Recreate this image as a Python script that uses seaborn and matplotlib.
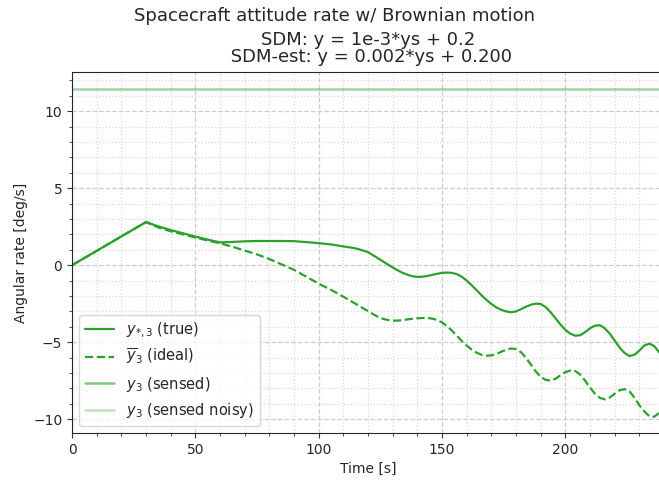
import matplotlib
matplotlib.use("Agg")
import matplotlib.pyplot as plt
from matplotlib.ticker import AutoMinorLocator
import seaborn as sns
import pandas as pd

# Time samples [s] and angular rates [deg/s]
t_true = [0, 10, 20, 30, 35, 40, 45, 50, 55, 60, 65, 70, 75, 80, 85, 90, 95,
          100, 105, 110, 114, 116, 118, 120, 122, 124, 126, 128, 130, 132, 134,
          136, 138, 140, 142, 144, 146, 148, 150, 152, 154, 156, 158, 160, 162,
          164, 166, 168, 170, 172, 174, 176, 178, 180, 182, 184, 186, 188, 190,
          192, 194, 196, 198, 200, 202, 204, 206, 208, 210, 212, 214, 216, 218,
          220, 222, 224, 226, 228, 230, 232, 234, 236, 238]
y_true = [0.0, 0.93, 1.87, 2.8, 2.52, 2.28, 2.07, 1.86, 1.66, 1.48, 1.51, 1.55,
          1.57, 1.57, 1.57, 1.56, 1.5, 1.43, 1.35, 1.22, 1.12, 1.05, 0.95, 0.85,
          0.65, 0.45, 0.25, 0.05, -0.15, -0.33, -0.5, -0.62, -0.72, -0.76,
          -0.75, -0.7, -0.63, -0.56, -0.5, -0.48, -0.5, -0.58, -0.75, -1.0,
          -1.3, -1.62, -1.95, -2.25, -2.52, -2.74, -2.9, -3.0, -3.06, -3.0,
          -2.86, -2.7, -2.57, -2.5, -2.52, -2.72, -3.05, -3.45, -3.85, -4.2,
          -4.45, -4.58, -4.55, -4.35, -4.1, -3.93, -3.9, -4.1, -4.45, -4.9,
          -5.35, -5.7, -5.9, -5.82, -5.55, -5.22, -5.1, -5.25, -5.65]

t_ideal = [0, 10, 20, 30, 35, 40, 45, 50, 55, 60, 65, 70, 75, 80, 85, 90, 95,
           100, 105, 110, 114, 116, 118, 120, 122, 124, 126, 128, 130, 132, 134,
           136, 138, 140, 142, 144, 146, 148, 150, 152, 154, 156, 158, 160, 162,
           164, 166, 168, 170, 172, 174, 176, 178, 180, 182, 184, 186, 188, 190,
           192, 194, 196, 198, 200, 202, 204, 206, 208, 210, 212, 214, 216, 218,
           220, 222, 224, 226, 228, 230, 232, 234, 236, 238]
y_ideal = [0.0, 0.93, 1.87, 2.8, 2.45, 2.2, 2.0, 1.8, 1.6, 1.42, 1.2, 0.95,
           0.7, 0.4, 0.05, -0.3, -0.75, -1.2, -1.6, -2.05, -2.42, -2.6, -2.8,
           -2.98, -3.18, -3.35, -3.48, -3.56, -3.6, -3.6, -3.57, -3.52, -3.48,
           -3.45, -3.43, -3.43, -3.47, -3.56, -3.72, -3.95, -4.25, -4.58,
           -4.92, -5.22, -5.48, -5.68, -5.82, -5.88, -5.86, -5.78, -5.62, -5.5,
           -5.41, -5.45, -5.65, -6.0, -6.45, -6.9, -7.25, -7.45, -7.5, -7.38,
           -7.15, -6.95, -6.85, -6.87, -7.1, -7.5, -7.95, -8.35, -8.62, -8.72,
           -8.6, -8.35, -8.12, -8.05, -8.2, -8.6, -9.1, -9.5, -9.8, -9.85, -9.6]

t_sensed = [0, 240]
y_sensed = [11.47, 11.47]
y_sensed_noisy = [11.47, 11.47]

green = "#2ca02c"

sns.set_style("ticks")
plt.rcParams["font.family"] = ["DejaVu Sans"]

fig = plt.figure(figsize=(6.59, 4.84), dpi=100)
ax = fig.add_axes([0.1093, 0.1054, 0.8983, 0.7459])

df_true = pd.DataFrame({"t": t_true, "y": y_true})
df_ideal = pd.DataFrame({"t": t_ideal, "y": y_ideal})
df_sens = pd.DataFrame({"t": t_sensed, "y": y_sensed})
df_noisy = pd.DataFrame({"t": t_sensed, "y": y_sensed_noisy})

sns.lineplot(data=df_true, x="t", y="y", ax=ax, color=green, lw=1.6,
             label=r"$y_{*,3}$ (true)")
sns.lineplot(data=df_ideal, x="t", y="y", ax=ax, color=green, lw=1.6,
             linestyle="--", label=r"$\overline{y}_3$ (ideal)")
sns.lineplot(data=df_sens, x="t", y="y", ax=ax, color=green, lw=1.8,
             alpha=0.25, label=r"$y_3$ (sensed)")
sns.lineplot(data=df_noisy, x="t", y="y", ax=ax, color=green, lw=1.8,
             alpha=0.25, label=r"$y_3$ (sensed noisy)")

ax.set_xlim(0, 240)
ax.set_ylim(-10.9, 12.55)
ax.xaxis.set_minor_locator(AutoMinorLocator(5))
ax.yaxis.set_minor_locator(AutoMinorLocator(5))
ax.grid(which="major", linestyle="--", color="0.8", lw=0.9)
ax.grid(which="minor", linestyle=":", color="0.85", lw=0.9)
ax.tick_params(which="both", direction="out", color="0.2")
for s in ax.spines.values():
    s.set_color("0.15")

ax.set_xlabel("Time [s]", fontsize=10)
ax.set_ylabel("Angular rate [deg/s]", fontsize=10)
ax.set_title("SDM: y = 1e-3*ys + 0.2\n SDM-est: y = 0.002*ys + 0.200",
             fontsize=13, linespacing=0.95, pad=7)
fig.suptitle("Spacecraft attitude rate w/ Brownian motion", fontsize=13,
             x=0.508, y=0.985)

leg = ax.legend(loc="lower left", fontsize=10.5, frameon=True, fancybox=True,
                framealpha=0.8)
# legend keys show the sensed traces at their own intensity
handles = leg.legend_handles
handles[2].set_alpha(0.6)
handles[3].set_alpha(0.3)

fig.savefig("out.png", dpi=100)
